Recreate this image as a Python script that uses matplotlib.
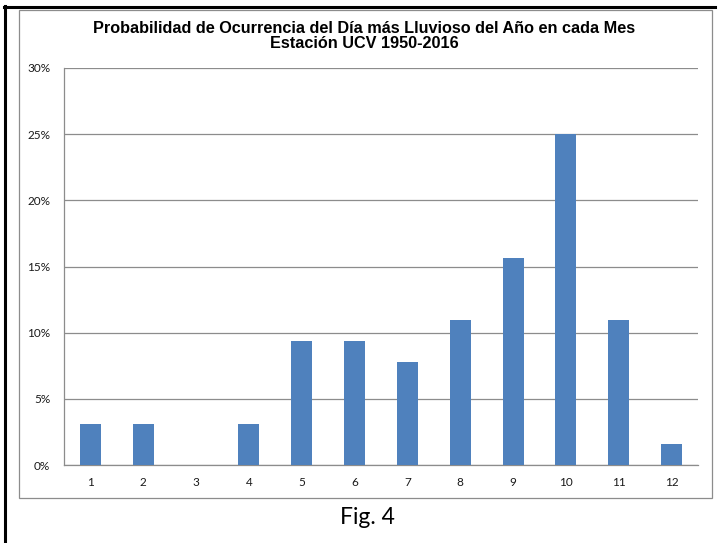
import matplotlib
matplotlib.use("Agg")
import matplotlib.pyplot as plt
from matplotlib.lines import Line2D
from matplotlib.patches import Rectangle
from matplotlib.ticker import FuncFormatter, MultipleLocator

months = [1, 2, 3, 4, 5, 6, 7, 8, 9, 10, 11, 12]
month_labels = [str(m) for m in months]
probability = [3.125, 3.125, 0.0, 3.125, 9.375, 9.375, 7.8125, 10.9375, 15.625, 25.0, 10.9375, 1.5625]
title_text = "Probabilidad de Ocurrencia del Día más Lluvioso del Año en cada Mes\nEstación UCV 1950-2016"
caption = "Fig. 4"

W, H = 719, 543
fig = plt.figure(figsize=(W / 100, H / 100), dpi=100)

def fx(px):
    return px / W

def fy(py):
    return 1 - py / H

# outer page lines (black)
fig.add_artist(Line2D([fx(5), fx(5)], [fy(6), fy(543)], transform=fig.transFigure, color="black", lw=2.2))
fig.add_artist(Line2D([fx(4), fx(715)], [fy(7), fy(7)], transform=fig.transFigure, color="black", lw=2.2))

# chart border (gray)
fig.add_artist(Rectangle((fx(19), fy(498)), fx(712) - fx(19), fy(10) - fy(498),
                         transform=fig.transFigure, fill=False, edgecolor="#8c8c8c", lw=0.9))

ax = fig.add_axes([fx(64), fy(465), fx(698) - fx(64), fy(68) - fy(465)])
x = list(range(len(months)))
ax.bar(x, probability, width=0.4, color="#4F81BD", zorder=3)
ax.set_xlim(-0.5, len(months) - 0.5)
ax.set_ylim(0, 30)
ax.yaxis.set_major_locator(MultipleLocator(5))
ax.yaxis.set_major_formatter(FuncFormatter(lambda v, p: f"{v:.0f}%"))
ax.set_xticks(x)
ax.set_xticklabels(month_labels)
ax.grid(axis="y", color="#8c8c8c", lw=0.9, zorder=0)
for s in ["top", "right"]:
    ax.spines[s].set_visible(False)
for s in ["left", "bottom"]:
    ax.spines[s].set_color("#8c8c8c")
    ax.spines[s].set_linewidth(0.9)
ax.tick_params(axis="both", length=0, labelsize=8.5, colors="#1a1a1a", pad=9)
ax.tick_params(axis="y", pad=10)
for lab in ax.get_xticklabels() + ax.get_yticklabels():
    lab.set_fontfamily("Lato")

fig.text(fx(364), fy(36), title_text, ha="center", va="center", fontsize=11.7,
         fontweight="bold", family="Liberation Sans", linespacing=1.0)
fig.text(fx(367), fy(517), caption, ha="center", va="center", fontsize=16.5, family="Lato")

fig.savefig("out.png", dpi=100)
